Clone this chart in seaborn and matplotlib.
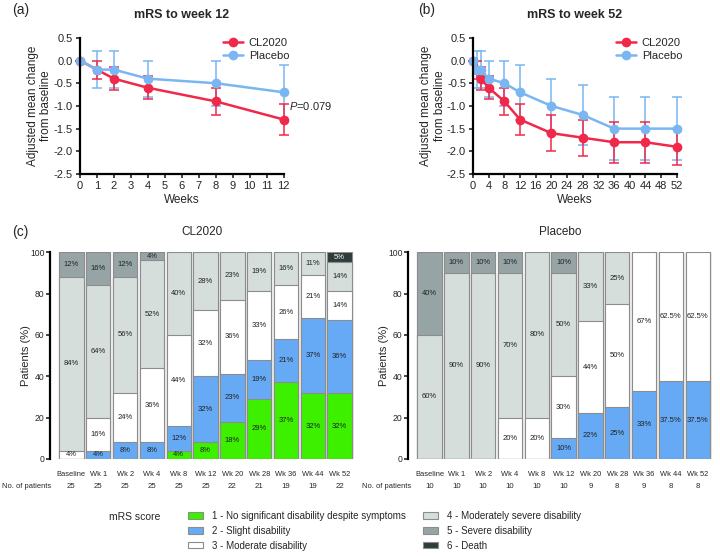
import numpy as np
import pandas as pd
import matplotlib
matplotlib.use("Agg")
import matplotlib.pyplot as plt
from matplotlib.patches import Patch
from matplotlib.transforms import blended_transform_factory
import seaborn as sns

# ── Data ──────────────────────────────────────────────────────────────────────
WEEKS_12 = [0, 1, 2, 4, 8, 12]
WEEKS_52 = [0, 1, 2, 4, 8, 12, 20, 28, 36, 44, 52]

CL_MEAN = [0, -0.2, -0.4, -0.6, -0.9, -1.3, -1.6, -1.7, -1.8, -1.8, -1.9]
CL_ERR = [0, 0.2, 0.25, 0.25, 0.3, 0.35, 0.4, 0.4, 0.45, 0.45, 0.4]
PL_MEAN = [0, -0.2, -0.2, -0.4, -0.5, -0.7, -1.0, -1.2, -1.5, -1.5, -1.5]
PL_ERR = [0, 0.4, 0.4, 0.4, 0.5, 0.6, 0.6, 0.65, 0.7, 0.7, 0.7]

VISITS = ["Baseline", "Wk 1", "Wk 2", "Wk 4", "Wk 8", "Wk 12",
          "Wk 20", "Wk 28", "Wk 36", "Wk 44", "Wk 52"]
CL_N = [25, 25, 25, 25, 25, 25, 22, 21, 19, 19, 22]
PL_N = [10, 10, 10, 10, 10, 10, 9, 8, 9, 8, 8]

# % of patients by mRS score (1..6)
CL_MRS1 = [0, 0, 0, 0, 4, 8, 18, 29, 37, 32, 32]
CL_MRS2 = [0, 4, 8, 8, 12, 32, 23, 19, 21, 37, 36]
CL_MRS3 = [4, 16, 24, 36, 44, 32, 36, 33, 26, 21, 14]
CL_MRS4 = [84, 64, 56, 52, 40, 28, 23, 19, 16, 11, 14]
CL_MRS5 = [12, 16, 12, 4, 0, 0, 0, 0, 0, 0, 0]
CL_MRS6 = [0, 0, 0, 0, 0, 0, 0, 0, 0, 0, 5]

PL_MRS1 = [0, 0, 0, 0, 0, 0, 0, 0, 0, 0, 0]
PL_MRS2 = [0, 0, 0, 0, 0, 10, 22, 25, 33, 37.5, 37.5]
PL_MRS3 = [0, 0, 0, 20, 20, 30, 44, 50, 67, 62.5, 62.5]
PL_MRS4 = [60, 90, 90, 70, 80, 50, 33, 25, 0, 0, 0]
PL_MRS5 = [40, 10, 10, 10, 0, 10, 0, 0, 0, 0, 0]
PL_MRS6 = [0, 0, 0, 0, 0, 0, 0, 0, 0, 0, 0]

MRS_LABELS = ["1 - No significant disability despite symptoms",
              "2 - Slight disability", "3 - Moderate disability",
              "4 - Moderately severe disability", "5 - Severe disability",
              "6 - Death"]

# ── Style ─────────────────────────────────────────────────────────────────────
sns.set_theme(style="ticks")
plt.rcParams["font.family"] = ["Liberation Sans", "DejaVu Sans"]
plt.rcParams["mathtext.fontset"] = "custom"
plt.rcParams["mathtext.it"] = "Liberation Sans:italic"
plt.rcParams["mathtext.rm"] = "Liberation Sans"

RED = "#f0284a"
BLUE = "#7ab6f2"
MRS_COLORS = ["#3cf000", "#66aaf5", "#ffffff", "#d5dedb", "#97a4a6", "#2d3b3a"]
EDGE = "#8c8c8c"

fig = plt.figure(figsize=(7.2, 5.56), dpi=100)


def line_panel(rect, weeks, title, xticks):
    ax = fig.add_axes(rect)
    n = len(weeks)
    df = pd.DataFrame({
        "week": weeks * 2,
        "mean": CL_MEAN[:n] + PL_MEAN[:n],
        "err": CL_ERR[:n] + PL_ERR[:n],
        "group": ["CL2020"] * n + ["Placebo"] * n,
    })
    for grp, col in [("Placebo", BLUE), ("CL2020", RED)]:
        d = df[df.group == grp]
        ax.errorbar(d.week, d["mean"], yerr=d.err, fmt="none", ecolor=col,
                    elinewidth=1.1, capsize=3.5, capthick=1.1, clip_on=False)
    sns.lineplot(data=df, x="week", y="mean", hue="group",
                 hue_order=["CL2020", "Placebo"], palette=[RED, BLUE],
                 marker="o", markersize=7, markeredgewidth=0, linewidth=1.8,
                 ax=ax, clip_on=False)
    ax.set_xlim(0, weeks[-1])
    ax.set_ylim(-2.5, 0.5)
    ax.set_xticks(xticks)
    yt = np.arange(-2.5, 0.51, 0.5)
    ax.set_yticks(yt)
    ax.set_yticklabels([f"{v:.1f}".replace("−", "-") for v in yt])
    ax.tick_params(labelsize=8, width=1.2, length=3, pad=2)
    for s in ["left", "bottom"]:
        ax.spines[s].set_linewidth(1.6)
        ax.spines[s].set_color("black")
    sns.despine(ax=ax)
    ax.set_xlabel("Weeks", fontsize=8.5, labelpad=2)
    ax.set_ylabel("Adjusted mean change\nfrom baseline", fontsize=8.5,
                  labelpad=1)
    ax.set_title(title, fontsize=9, fontweight="bold", pad=14)
    ax.legend(loc="upper right", bbox_to_anchor=(1.06, 1.05), frameon=False,
              fontsize=8, handlelength=1.8, handletextpad=0.5,
              borderaxespad=0.2, labelspacing=0.3)
    return ax


ax_a = line_panel([0.111, 0.687, 0.283, 0.245], WEEKS_12, "mRS to week 12",
                  list(range(0, 13)))
ax_a.text(12.3, -1.0, "$P$=0.079", fontsize=8, ha="left", va="center")
ax_b = line_panel([0.657, 0.687, 0.283, 0.245], WEEKS_52, "mRS to week 52",
                  list(range(0, 53, 4)))


def bar_panel(rect, levels, counts, title, npat_x):
    ax = fig.add_axes(rect)
    arr = np.array(levels, dtype=float)
    cum = np.cumsum(arr, axis=0)
    cum = cum / cum[-1] * 100
    # draw from top category down so lower ones sit over higher ones
    for k in range(len(levels) - 1, -1, -1):
        d = pd.DataFrame({"visit": VISITS, "cum": cum[k]})
        sns.barplot(data=d, x="visit", y="cum", color=MRS_COLORS[k],
                    saturation=1, width=0.91, edgecolor=EDGE,
                    linewidth=0.8, ax=ax)
    for k in range(len(levels)):
        base = cum[k - 1] if k > 0 else np.zeros(len(VISITS))
        for i, v in enumerate(levels[k]):
            if v > 0:
                ax.text(i, (base[i] + cum[k][i]) / 2, f"{v:g}%",
                        ha="center", va="center", fontsize=5.5,
                        color="white" if k == 5 else "#222222")
    ax.set_xlim(-0.8, 10.57)
    ax.set_ylim(0, 100)
    ax.set_yticks(range(0, 101, 20))
    ax.tick_params(axis="y", labelsize=6.2, width=1.2, length=3, pad=1)
    ax.tick_params(axis="x", labelsize=5.4, length=0, pad=9)
    ax.spines["left"].set_linewidth(1.6)
    ax.spines["left"].set_color("black")
    sns.despine(ax=ax, bottom=True)
    ax.set_xlabel("")
    ax.set_ylabel("Patients (%)", fontsize=8, labelpad=-1)
    ax.set_title(title, fontsize=8.5, pad=12)
    tr = blended_transform_factory(ax.transData, ax.transAxes)
    for i, n in enumerate(counts):
        ax.text(i, -0.135, str(n), transform=tr, ha="center", va="center",
                fontsize=5.6)
    tr2 = blended_transform_factory(fig.transFigure, ax.transAxes)
    ax.text(npat_x / 720, -0.135, "No. of patients", transform=tr2,
            ha="left", va="center", fontsize=5.4)
    return ax


bar_panel([0.0694, 0.1745, 0.4236, 0.372],
          [CL_MRS1, CL_MRS2, CL_MRS3, CL_MRS4, CL_MRS5, CL_MRS6], CL_N,
          "CL2020", 2)
bar_panel([0.5667, 0.1745, 0.4236, 0.372],
          [PL_MRS1, PL_MRS2, PL_MRS3, PL_MRS4, PL_MRS5, PL_MRS6], PL_N,
          "Placebo", 362)

# panel letters
fig.text(12 / 720, 1 - 10 / 556, "(a)", fontsize=10, va="center")
fig.text(418 / 720, 1 - 10 / 556, "(b)", fontsize=10, va="center")
fig.text(12 / 720, 1 - 232 / 556, "(c)", fontsize=10, va="center")

# mRS legend, two columns placed separately
handles = [Patch(facecolor=c, edgecolor=EDGE, linewidth=0.8)
           for c in MRS_COLORS]
fig.text(135 / 720, 1 - 517 / 556, "mRS score", fontsize=7.5, ha="center",
         va="center")
leg_kw = dict(loc="upper left", frameon=False, fontsize=7,
              handlelength=1.55, handleheight=0.6, handletextpad=0.9,
              labelspacing=0.5, borderpad=0, borderaxespad=0)
fig.legend(handles[:3], MRS_LABELS[:3],
           bbox_to_anchor=(188 / 720, 1 - 511 / 556), **leg_kw)
fig.legend(handles[3:], MRS_LABELS[3:],
           bbox_to_anchor=(423 / 720, 1 - 511 / 556), **leg_kw)

fig.savefig("out.png", dpi=100)
